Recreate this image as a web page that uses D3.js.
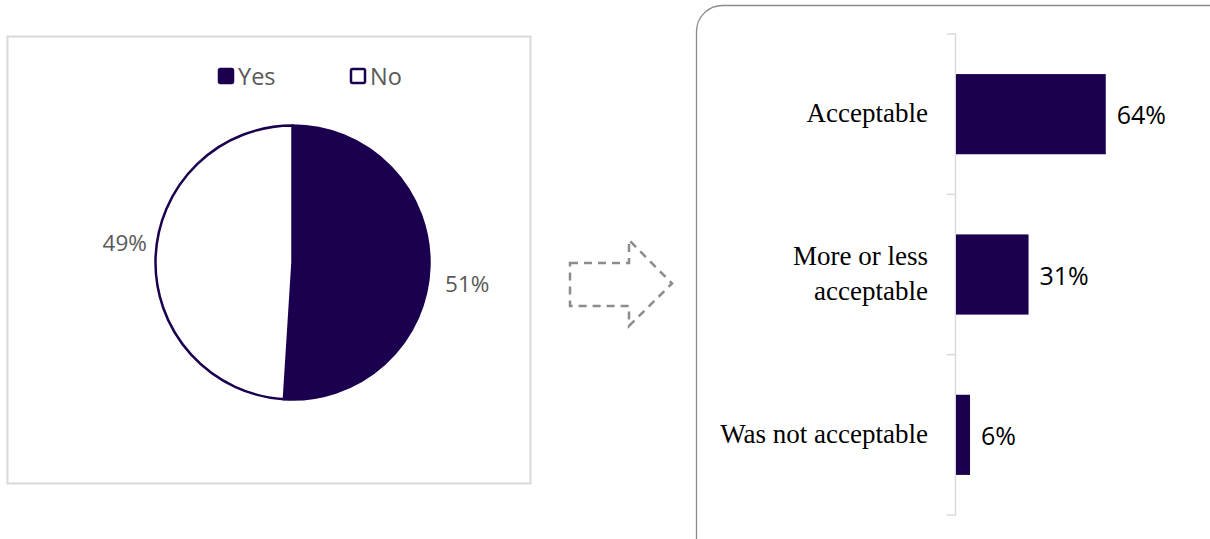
<!DOCTYPE html>
<html>
<head>
<meta charset="utf-8">
<script src="https://cdn.jsdelivr.net/npm/d3@7"></script>
<style>
  html, body { margin: 0; padding: 0; background: #fff; }
  svg { display: block; }
</style>
</head>
<body>
<svg id="chart" width="1210" height="539"></svg>
<script>
// Pie: did respondents answer yes or no
const pieLabels = ["Yes", "No"];
const pieValues = [51, 49];

// Bar breakdown
const barCategories = [["Acceptable"], ["More or less", "acceptable"], ["Was not acceptable"]];
const barValues = [64, 31, 6];

const dark = "#1a004e";
const svg = d3.select("#chart");

// ---- Left panel: pie chart ----
svg.append("rect")
  .attr("x", 7.5).attr("y", 36.5).attr("width", 523).attr("height", 447)
  .attr("fill", "#fff").attr("stroke", "#d9d9d9").attr("stroke-width", 2);

const cx = 292.5, cy = 262.5, r = 137;
const pie = d3.pie().sort(null).value(d => d)(pieValues);
const arc = d3.arc().innerRadius(0).outerRadius(r);
const pieG = svg.append("g").attr("transform", `translate(${cx},${cy})`);
pieG.selectAll("path").data(pie).join("path")
  .attr("d", arc)
  .attr("fill", (d, i) => i === 0 ? dark : "#fff")
  .attr("stroke", dark).attr("stroke-width", 2.5).attr("stroke-linejoin", "round");

// outside labels, nudged a few degrees clockwise of each slice's middle
const labelR = [176, 169];
const labelShift = 5 * Math.PI / 180;
pieG.selectAll("text").data(pie).join("text")
  .attr("transform", (d, i) => {
    const a = (d.startAngle + d.endAngle) / 2 + labelShift;
    return `translate(${labelR[i] * Math.sin(a)},${-labelR[i] * Math.cos(a)})`;
  })
  .attr("text-anchor", "middle")
  .attr("dominant-baseline", "central")
  .attr("font-family", "'Open Sans', sans-serif")
  .attr("font-size", 22.5)
  .attr("fill", "#595959")
  .text(d => d.data + "%");

// legend
const legend = svg.append("g");
const legendX = [218, 350];
pieLabels.forEach((lab, i) => {
  legend.append("rect")
    .attr("x", legendX[i] + 1).attr("y", 69).attr("width", 14).attr("height", 14)
    .attr("rx", 1.5)
    .attr("fill", i === 0 ? dark : "#fff")
    .attr("stroke", dark).attr("stroke-width", 2.5);
  legend.append("text")
    .attr("x", legendX[i] + 20).attr("y", 76)
    .attr("dominant-baseline", "central")
    .attr("font-family", "'Open Sans', sans-serif")
    .attr("font-size", 23.5)
    .attr("fill", "#595959")
    .text(lab);
});

// ---- Dashed arrow between panels ----
const arrowPts = [[570, 263], [629, 263], [629, 240], [672, 283.5], [629, 326], [629, 306], [570, 306]];
svg.append("path")
  .attr("d", d3.line()(arrowPts) + "Z")
  .attr("fill", "none").attr("stroke", "#8c8c8c")
  .attr("stroke-width", 2.5).attr("stroke-dasharray", "8,6");

// ---- Right panel: bar chart ----
svg.append("rect")
  .attr("x", 696.5).attr("y", 5.5).attr("width", 540).attr("height", 560)
  .attr("rx", 26).attr("fill", "#fff").attr("stroke", "#8a8a8a").attr("stroke-width", 1.3);

const x = d3.scaleLinear().domain([0, 100]).range([956, 956 + 234]);
const y = d3.scaleBand().domain(d3.range(barValues.length)).range([34, 515]).paddingInner(0.5).paddingOuter(0.25);

// axis line with tick marks at category boundaries
const axisG = svg.append("g").attr("stroke", "#d9d9d9").attr("stroke-width", 1.5);
axisG.append("line").attr("x1", 955.5).attr("x2", 955.5).attr("y1", 34).attr("y2", 515.5);
const step = (515 - 34) / barValues.length;
d3.range(barValues.length + 1).forEach(i => {
  const ty = 34 + i * step;
  axisG.append("line").attr("x1", 947).attr("x2", 955.5).attr("y1", ty).attr("y2", ty);
});

svg.selectAll(".bar").data(barValues).join("rect")
  .attr("class", "bar")
  .attr("x", x(0)).attr("y", (d, i) => y(i))
  .attr("width", d => x(d) - x(0)).attr("height", y.bandwidth())
  .attr("fill", dark);

svg.selectAll(".val").data(barValues).join("text")
  .attr("class", "val")
  .attr("x", d => x(d) + 11).attr("y", (d, i) => y(i) + y.bandwidth() / 2)
  .attr("dominant-baseline", "central")
  .attr("font-family", "'Open Sans', sans-serif")
  .attr("font-size", 25).attr("fill", "#000")
  .text(d => d + "%");

svg.selectAll(".cat").data(barCategories).join("text")
  .attr("class", "cat")
  .attr("text-anchor", "end")
  .attr("font-family", "'Liberation Serif', serif")
  .attr("font-size", 27).attr("fill", "#000")
  .each(function(lines, i) {
    const cyBand = y(i) + y.bandwidth() / 2;
    const lh = 35;
    const t = d3.select(this);
    lines.forEach((ln, j) => {
      t.append("tspan")
        .attr("x", 928)
        .attr("y", cyBand + (j - (lines.length - 1) / 2) * lh + 8)
        .text(ln);
    });
  });
</script>
</body>
</html>
